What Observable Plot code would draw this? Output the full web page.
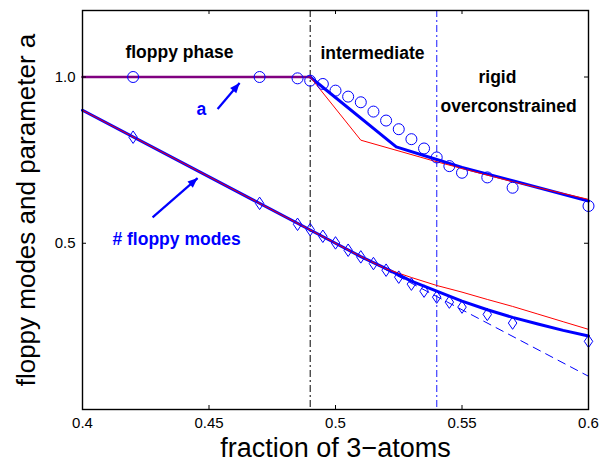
<!DOCTYPE html>
<html>
<head>
<meta charset="utf-8">
<script src="https://cdn.jsdelivr.net/npm/d3@7"></script>
<script src="https://cdn.jsdelivr.net/npm/@observablehq/plot@0.6"></script>
<style>
  html, body { margin: 0; padding: 0; background: #fff; }
  #chart svg { display: block; font-family: "Liberation Sans", Arial, sans-serif; }
</style>
</head>
<body>
<div id="chart"></div>
<script>
// ---- data ----
const xTicks = [0.4, 0.45, 0.5, 0.55, 0.6];
const yTicks = [0.5, 1.0];
const phaseBounds = [0.49, 0.54];

// simulation: parameter a (circles)
const aSimX = [0.42, 0.47, 0.485, 0.49, 0.495, 0.5, 0.505, 0.51, 0.515, 0.52, 0.525, 0.53, 0.535, 0.54, 0.545, 0.55, 0.56, 0.57, 0.6];
const aSimY = [1.0, 1.0, 0.996, 0.989, 0.979, 0.959, 0.941, 0.924, 0.896, 0.869, 0.843, 0.813, 0.785, 0.758, 0.732, 0.712, 0.698, 0.667, 0.612];

// simulation: # floppy modes (diamonds)
const fSimX = [0.42, 0.47, 0.485, 0.49, 0.495, 0.5, 0.505, 0.51, 0.515, 0.52, 0.525, 0.53, 0.535, 0.54, 0.545, 0.55, 0.56, 0.57, 0.6];
const fSimY = [0.819, 0.620, 0.557, 0.541, 0.521, 0.501, 0.479, 0.459, 0.439, 0.419, 0.398, 0.377, 0.356, 0.338, 0.323, 0.308, 0.286, 0.260, 0.205];

// a in floppy phase (common part)
const aFlatX = [0.4, 0.49];
const aFlatY = [1.0, 1.0];
// a, thick blue theory
const aBlueX = [0.49, 0.524, 0.54, 0.55, 0.57, 0.6];
const aBlueY = [1.0, 0.79, 0.752, 0.728, 0.688, 0.627];
// a, thin red theory
const aRedX = [0.49, 0.51, 0.54, 0.57, 0.6];
const aRedY = [1.0, 0.81, 0.745, 0.685, 0.632];

// floppy modes, thick blue theory
const fBlueX = [0.4, 0.5, 0.51, 0.52, 0.53, 0.54, 0.55, 0.56, 0.57, 0.58, 0.59, 0.6];
const fBlueY = [0.9, 0.5, 0.46, 0.424, 0.386, 0.356, 0.326, 0.300, 0.277, 0.257, 0.238, 0.221];
// floppy modes, thin red theory
const fRedX = [0.4, 0.51, 0.52, 0.53, 0.54, 0.55, 0.56, 0.57, 0.58, 0.59, 0.6];
const fRedY = [0.9, 0.46, 0.423, 0.397, 0.373, 0.353, 0.331, 0.310, 0.287, 0.264, 0.241];
// floppy modes, mean-field continuation (dashed)
const fMeanX = [0.49, 0.6];
const fMeanY = [0.54, 0.1];

// annotations
const phaseLabels = ["floppy phase", "intermediate", "rigid", "overconstrained"];
const phaseLabelX = [0.4383, 0.5146, 0.564, 0.5684];
const phaseLabelY = [1.074, 1.071, 0.9985, 0.9127];
const blueLabels = ["a", "# floppy modes"];
const blueLabelX = [0.447, 0.4372];
const blueLabelY = [0.9036, 0.512];
const arrowX1 = [0.4534, 0.4277];
const arrowY1 = [0.9036, 0.578];
const arrowX2 = [0.4621, 0.4455];
const arrowY2 = [0.982, 0.696];

const xLabel = "fraction of 3\u2212atoms";
const yLabel = "floppy modes and parameter a";

// ---- layout ----
const W = 600, H = 462, mL = 82, mR = 12, mT = 10, mB = 53;
const iW = W - mL - mR, iH = H - mT - mB;
const tick = 4;
const xDomain = [0.4, 0.6], yDomain = [0, 1.2];

// ---- build tables ----
const zip = (xs, ys) => xs.map((x, i) => ({x, y: ys[i]}));
const aSim = zip(aSimX, aSimY);
const fSim = zip(fSimX, fSimY);
const phaseText = phaseLabels.map((t, i) => ({t, x: phaseLabelX[i], y: phaseLabelY[i]}));
const blueText = blueLabels.map((t, i) => ({t, x: blueLabelX[i], y: blueLabelY[i]}));

// arrow head direction in screen space, via the same scales
const sx = Plot.scale({x: {domain: xDomain, range: [mL, W - mR]}});
const sy = Plot.scale({y: {domain: yDomain, range: [H - mB, mT]}});
const arrows = arrowX1.map((x1, i) => {
  const x2 = arrowX2[i], y1 = arrowY1[i], y2 = arrowY2[i];
  const ang = Math.atan2(sy.apply(y2) - sy.apply(y1), sx.apply(x2) - sx.apply(x1)) * 180 / Math.PI;
  return {x1, y1, x2, y2, ang};
});

const tallDiamond = {
  draw(ctx, size) {
    const r = Math.sqrt(size / Math.PI);
    ctx.moveTo(0, -r * 1.25);
    ctx.lineTo(r * 0.85, 0);
    ctx.lineTo(0, r * 1.25);
    ctx.lineTo(-r * 0.85, 0);
    ctx.closePath();
  }
};
// filled arrow head, tip at origin, pointing along +x
const arrowHead = {
  draw(ctx, size) {
    const r = Math.sqrt(size / Math.PI);
    ctx.moveTo(0, 0);
    ctx.lineTo(-r * 2.2, -r * 0.9);
    ctx.lineTo(-r * 2.2, r * 0.9);
    ctx.closePath();
  }
};

const plot = Plot.plot({
  width: W, height: H,
  marginLeft: mL, marginRight: mR, marginTop: mT, marginBottom: mB,
  style: {background: "#fff", fontFamily: "'Liberation Sans', Arial, sans-serif"},
  x: {domain: xDomain, axis: null},
  y: {domain: yDomain, axis: null},
  marks: [
    // phase boundaries
    Plot.ruleX([phaseBounds[0]], {stroke: "#000", strokeWidth: 1, strokeDasharray: "7,3,2,3"}),
    Plot.ruleX([phaseBounds[1]], {stroke: "#4d4dff", strokeWidth: 1.3, strokeDasharray: "7,3,2,3"}),

    // floppy modes theory
    Plot.line(zip(fMeanX, fMeanY), {x: "x", y: "y", stroke: "#0000ff", strokeWidth: 1, strokeDasharray: "8,6"}),
    Plot.line(zip(fBlueX, fBlueY), {x: "x", y: "y", stroke: "#0000ff", strokeWidth: 3}),
    Plot.line(zip(fRedX, fRedY), {x: "x", y: "y", stroke: "#ff0000", strokeWidth: 1}),

    // a theory
    Plot.line(zip(aBlueX, aBlueY), {x: "x", y: "y", stroke: "#0000ff", strokeWidth: 3}),
    Plot.line(zip(aRedX, aRedY), {x: "x", y: "y", stroke: "#ff0000", strokeWidth: 1}),
    Plot.line(zip(aFlatX, aFlatY), {x: "x", y: "y", stroke: "#800080", strokeWidth: 2.6}),

    // simulation points
    Plot.dot(aSim, {x: "x", y: "y", r: 5.5, stroke: "#0000ff", strokeWidth: 1, fill: "none"}),
    Plot.dot(fSim, {x: "x", y: "y", r: 5, symbol: tallDiamond, stroke: "#0000ff", strokeWidth: 1, fill: "none"}),

    // annotations
    Plot.text(phaseText, {x: "x", y: "y", text: "t", fontSize: 17.5, fontWeight: "bold", fill: "#000", textAnchor: "middle", lineAnchor: "middle"}),
    Plot.text(blueText, {x: "x", y: "y", text: "t", fontSize: 17.5, fontWeight: "bold", fill: "#0000ff", textAnchor: "middle", lineAnchor: "middle"}),
    Plot.link(arrows, {x1: "x1", y1: "y1", x2: "x2", y2: "y2", stroke: "#0000ff", strokeWidth: 2.2}),
    Plot.dot(arrows, {x: "x2", y: "y2", r: 4.5, symbol: arrowHead, rotate: "ang", fill: "#0000ff", stroke: "none"}),

    // frame and inward ticks
    Plot.frame({stroke: "#000", strokeWidth: 1.4}),
    Plot.tickX(xTicks, {x: d => d, stroke: "#000", strokeWidth: 1, insetTop: iH - tick}),
    Plot.tickX(xTicks, {x: d => d, stroke: "#000", strokeWidth: 1, insetBottom: iH - tick}),
    Plot.tickY(yTicks, {y: d => d, stroke: "#000", strokeWidth: 1, insetRight: iW - tick}),
    Plot.tickY(yTicks, {y: d => d, stroke: "#000", strokeWidth: 1, insetLeft: iW - tick}),

    // tick labels
    Plot.axisX(xTicks, {anchor: "bottom", tickSize: 0, tickPadding: 8, fontSize: 15, tickFormat: d => String(d), label: null, fill: "#000"}),
    Plot.axisY(yTicks, {anchor: "left", tickSize: 0, tickPadding: 7, fontSize: 15, tickFormat: d => d.toFixed(1), label: null, fill: "#000"}),

    // axis titles
    Plot.text([xLabel], {frameAnchor: "bottom", text: d => d, dy: 47, textAnchor: "middle", lineAnchor: "bottom", fontSize: 27, fill: "#000"}),
    Plot.text([yLabel], {frameAnchor: "left", text: d => d, dx: -48, rotate: -90, textAnchor: "middle", lineAnchor: "bottom", fontSize: 26, fill: "#000"})
  ]
});

document.getElementById("chart").appendChild(plot);
</script>
</body>
</html>
